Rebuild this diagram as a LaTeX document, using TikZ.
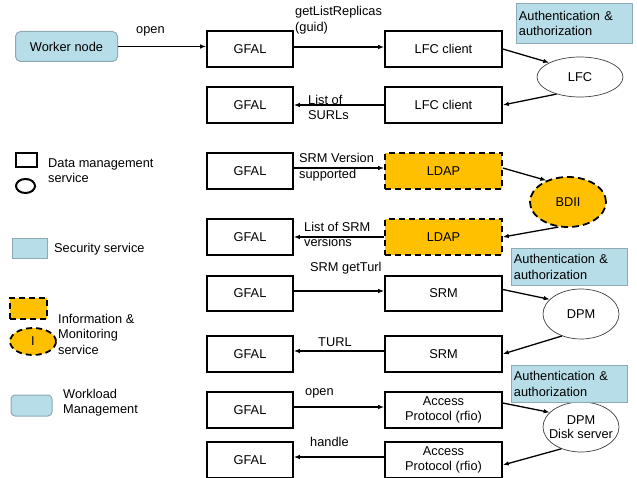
\documentclass[tikz,border=0pt]{standalone}
\usepackage{fontspec}
\setmainfont{Liberation Sans}
\usetikzlibrary{arrows.meta,shapes.geometric}
\definecolor{secblue}{HTML}{B7DDE8}
\definecolor{secedge}{HTML}{8FAAB3}
\definecolor{infoorange}{HTML}{FFC000}
\begin{document}
\begin{tikzpicture}[x=1pt,y=-1pt,
  font=\fontsize{12.8}{15.5}\selectfont,
  box/.style={draw,line width=1.6pt,inner sep=0pt,minimum height=35.5pt},
  gfal/.style={box,minimum width=86pt},
  svc/.style={box,minimum width=117pt,align=center},
  info/.style={svc,fill=infoorange,dash pattern=on 6pt off 4pt},
  store/.style={ellipse,draw=black!75,line width=0.7pt,inner sep=0pt,minimum width=76pt,minimum height=50pt},
  authbox/.style={fill=secblue,draw=secedge,line width=0.8pt,align=left,anchor=north west,
    inner xsep=2.5pt,inner ysep=0pt,text width=111pt},
  flow/.style={-{Latex[length=6pt,width=4.5pt]},line width=1.3pt},
  lbl/.style={align=left,anchor=west,inner sep=0pt}]
\useasboundingbox (0,0) rectangle (637,478);

% worker node
\node[draw=secedge,fill=secblue,rounded corners=5pt,line width=1pt,minimum width=102pt,minimum height=30pt]
  (wn) at (66.5,46.5) {Worker node};

% left column: GFAL instances
\foreach \r/\y in {1/49,2/105,3/171,4/237,5/293.5,6/354,7/410,8/460}
  \node[gfal] (g\r) at (250,\y) {GFAL};

% right column: services
\node[svc] (lc1) at (443.5,49) {LFC client};
\node[svc] (lc2) at (443.5,105) {LFC client};
\node[info] (ld1) at (443.5,171) {LDAP};
\node[info] (ld2) at (443.5,237) {LDAP};
\node[svc] (sr1) at (443.5,293.5) {SRM};
\node[svc] (sr2) at (443.5,354) {SRM};
\node[svc,font=\fontsize{12.8}{14.5}\selectfont] (ap1) at (443.5,410) {Access\\Protocol (rfio)};
\node[svc,font=\fontsize{12.8}{14.5}\selectfont] (ap2) at (443.5,460) {Access\\Protocol (rfio)};

% back-end servers
\node[store,minimum width=86pt,minimum height=40pt] (lfc) at (580,77) {LFC};
\node[store,draw=black,fill=infoorange,line width=1.8pt,dash pattern=on 7pt off 4pt] (bdii) at (568,202) {BDII};
\node[store] (dpm) at (581,314) {DPM};
\node[store,label={[align=center,font=\fontsize{12.8}{14.5}\selectfont]center:DPM\\Disk server}] (dps) at (581,427) {};

% authentication boxes
\node[authbox,minimum height=40pt] (au1) at (516,3) {Authentication \&\\authorization};
\node[authbox,minimum height=37pt] (au2) at (511,248) {Authentication \&\\authorization};
\node[authbox,minimum height=37pt] (au3) at (511,365) {Authentication \&\\authorization};

% request / reply flows
\draw[flow] (wn.east) -- (wn.east -| g1.west);
\draw[flow] ([yshift=2pt]g1.east) -- ([yshift=2pt]lc1.west);
\draw[flow] (lc1.east) -- (lfc.155);
\draw[flow] (lfc.216) -- (lc2.east);
\draw[flow] (lc2.west) -- (g2.east);

\draw[flow] ([yshift=3pt]g3.east) -- ([yshift=3pt]ld1.west);
\draw[flow] ([yshift=3pt]ld1.east) -- (bdii.135);
\draw[flow] (bdii.249) -- (ld2.east);
\draw[flow] (ld2.west) -- (g4.east);

\draw[flow] ([yshift=2.5pt]g5.east) -- ([yshift=2.5pt]sr1.west);
\draw[flow] ([yshift=4pt]sr1.east) -- (dpm.155);
\draw[flow] (dpm.229) -- (sr2.east);
\draw[flow] ([yshift=3pt]sr2.west) -- ([yshift=3pt]g6.east);

\draw[flow] ([yshift=3pt]g7.east) -- ([yshift=3pt]ap1.west);
\draw[flow] ([yshift=7pt]ap1.east) -- (dps.155);
\draw[flow] (dps.228) -- ([yshift=-5pt]ap2.east);
\draw[flow] ([yshift=3pt]ap2.west) -- ([yshift=3pt]g8.east);

% flow labels
\node[lbl] (t1) at (136,31) {open};
\node[lbl] (t2) at (295,20) {getListReplicas\\(guid)};
\node[lbl] (t3) at (308,107.5) {List of\\SURLs};
\node[lbl] (t4) at (299,167) {SRM Version\\supported};
\node[lbl] (t5) at (304,234.5) {List of SRM\\versions};
\node[lbl] (t6) at (310,268) {SRM getTurl};
\node[lbl] (t7) at (318,342) {TURL};
\node[lbl] (t8) at (305,393) {open};
\node[lbl] (t9) at (310,442) {handle};

% legend
\node[draw,line width=1.5pt,minimum width=21pt,minimum height=14pt,inner sep=0pt] (k1) at (26.5,160) {};
\node[ellipse,draw,line width=2pt,minimum width=19pt,minimum height=14pt,inner sep=0pt] (k2) at (25.5,186) {};
\node[lbl] (k1t) at (48,170.5) {Data management\\service};

\node[fill=secblue,draw=secedge,line width=0.8pt,minimum width=35pt,minimum height=20pt,inner sep=0pt] (k3) at (29.5,248) {};
\node[lbl] (k3t) at (54,249) {Security service};

\node[fill=infoorange,draw,line width=1.8pt,dash pattern=on 6pt off 4pt,minimum width=37pt,minimum height=21pt,inner sep=0pt] (k4) at (28.5,308.5) {};
\node[ellipse,fill=infoorange,draw,line width=1.8pt,dash pattern=on 6pt off 4pt,minimum width=46pt,minimum height=27pt,inner sep=0pt] (k5) at (33,341.5) {I};
\node[lbl] (k4t) at (58,334) {Information \&\\Monitoring\\service};

\node[fill=secblue,draw=secedge,rounded corners=4pt,line width=1pt,minimum width=41pt,minimum height=21pt,inner sep=0pt] (k6) at (31.5,405.5) {};
\node[lbl] (k6t) at (63,402.5) {Workload\\Management};
\end{tikzpicture}
\end{document}
